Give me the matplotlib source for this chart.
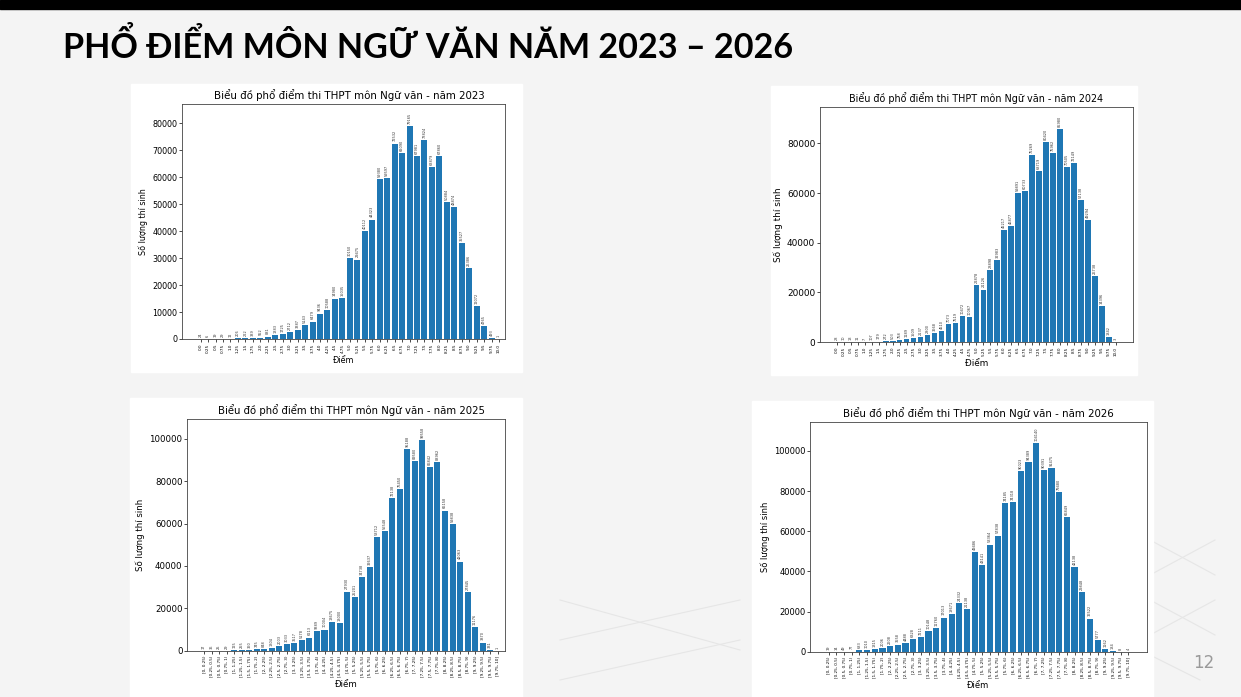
import matplotlib.pyplot as plt
from matplotlib.patches import Rectangle
from matplotlib.lines import Line2D

W, H = 1241, 697

# nhãn trục x
scores = [str(i * 0.25) for i in range(41)]
bins = [f"[{i * 0.25:g}, {(i + 1) * 0.25:g})" for i in range(39)] + ["[9.75, 10]"]

# số lượng thí sinh theo từng mức điểm
y2023 = [24, 6, 19, 29, 12, 206, 222, 389, 552, 881, 1383, 1725, 2712, 3387, 5143,
         6479, 9436, 10588, 14980, 15035, 30150, 29475, 40112, 44323, 59380, 59597,
         72532, 69090, 79165, 67981, 73824, 63879, 67860, 50884, 48874, 35527, 26386,
         12072, 4765, 493, 1]
y2024 = [28, 10, 13, 11, 7, 107, 179, 272, 503, 758, 1189, 1509, 2137, 2800, 3668,
         4510, 7073, 7519, 10472, 10067, 22878, 21126, 28898, 32983, 45217, 46877,
         59891, 60733, 75269, 68719, 80420, 75962, 85980, 70505, 72149, 57138, 49294,
         26738, 14396, 1842, 3]
y2025 = [17, 36, 25, 29, 125, 255, 360, 745, 848, 1304, 2003, 3033, 3517, 5178, 6213,
         9389, 10004, 13675, 13000, 27930, 25201, 34738, 39637, 53712, 56548, 72138,
         76450, 95188, 89580, 99558, 86842, 88962, 66158, 59838, 42063, 27845, 11176,
         3870, 331, 1]
y2026 = [19, 14, 49, 77, 683, 1010, 1315, 2006, 2608, 3558, 4488, 6328, 7211, 10148,
         11760, 17013, 18671, 24332, 21138, 49486, 43141, 53364, 57838, 74185, 74318,
         90023, 94389, 104140, 90391, 91475, 79480, 66849, 42138, 29848, 16522, 5777,
         1162, 184, 8, 4]


def px(left, top, right, bottom):
    return [left / W, 1 - bottom / H, (right - left) / W, (bottom - top) / H]


fig = plt.figure(figsize=(W / 100, H / 100), dpi=100)
fig.patch.set_facecolor("#f4f4f4")

# thanh đen phía trên
fig.add_artist(Rectangle((0, 1 - 9 / H), 1, 9 / H, transform=fig.transFigure,
                         color="black", zorder=0))

# họa tiết nền mờ góc dưới
for x0, y0, x1, y1 in [(1150, 540, 1215, 575), (1150, 575, 1215, 540),
                       (1150, 600, 1215, 635), (1150, 635, 1215, 600),
                       (1150, 655, 1200, 680), (560, 640, 740, 600),
                       (560, 600, 740, 650), (560, 680, 740, 640)]:
    fig.add_artist(Line2D([x0 / W, x1 / W], [1 - y0 / H, 1 - y1 / H],
                          transform=fig.transFigure, color="#e6e6e6", lw=0.8, zorder=0))

fig.text(63 / W, 1 - 46 / H, "PHỔ ĐIỂM MÔN NGỮ VĂN NĂM 2023 – 2026",
         fontsize=24.6, fontweight="bold", family="Lato", va="center", ha="left")
fig.text(1204 / W, 1 - 663 / H, "12", fontsize=12, color="#9a9a9a",
         va="center", ha="center")

# năm, nhãn, số liệu, khung ảnh, khung trục, xlim, cỡ chữ tiêu đề, cỡ chữ trục, lệch tiêu đề
charts = [
    ("2023", scores, y2023, (131, 84, 522, 372), (182, 104.3, 505, 339),
     (-2.5, 40.8), 7.35, 5.8, 0.018),
    ("2024", scores, y2024, (771, 86, 1137, 375), (820, 107.3, 1132.7, 342),
     None, 6.9, 6.4, 0.0),
    ("2025", bins, y2025, (130, 398, 522, 697), (187.3, 418.7, 505, 650.7),
     (-2.22, 39.97), 7.25, 6.2, 0.016),
    ("2026", bins, y2026, (752, 401, 1153, 697), (810.3, 421.7, 1146.7, 651.7),
     None, 7.4, 6.0, 0.0),
]

for year, labels, vals, box, pos, xlim, tsize, fsize, tshift in charts:
    l, t, r, b = box
    fig.add_artist(Rectangle((l / W, 1 - b / H), (r - l) / W, (b - t) / H,
                             transform=fig.transFigure, color="white", zorder=0))
    ax = fig.add_axes(px(*pos))
    x = range(len(vals))
    ax.bar(x, vals, color="#1f77b4", width=0.8)
    ax.set_ylim(0, max(vals) * 1.1)
    if xlim:
        ax.set_xlim(*xlim)
    for i, v in zip(x, vals):
        ax.text(i, v + max(vals) * 0.01, str(v), rotation=90, ha="center",
                va="bottom", fontsize=2.5, color="#333333")
    ax.set_xticks(list(x))
    ax.set_xticklabels(labels, rotation=90, fontsize=3.0)
    ax.tick_params(axis="y", labelsize=fsize, length=2, width=0.5, pad=1.5)
    ax.tick_params(axis="x", length=2, width=0.5, pad=1.5)
    for s in ax.spines.values():
        s.set_linewidth(0.6)
        s.set_color("#444444")
    ax.set_title(f"Biểu đồ phổ điểm thi THPT môn Ngữ văn - năm {year}",
                 fontsize=tsize, pad=3.5, x=0.5 + tshift)
    ax.set_ylabel("Số lượng thí sinh", fontsize=fsize, labelpad=3)
    ax.set_xlabel("Điểm", fontsize=fsize, labelpad=2)

fig.savefig("out.png", dpi=100, facecolor=fig.get_facecolor())
